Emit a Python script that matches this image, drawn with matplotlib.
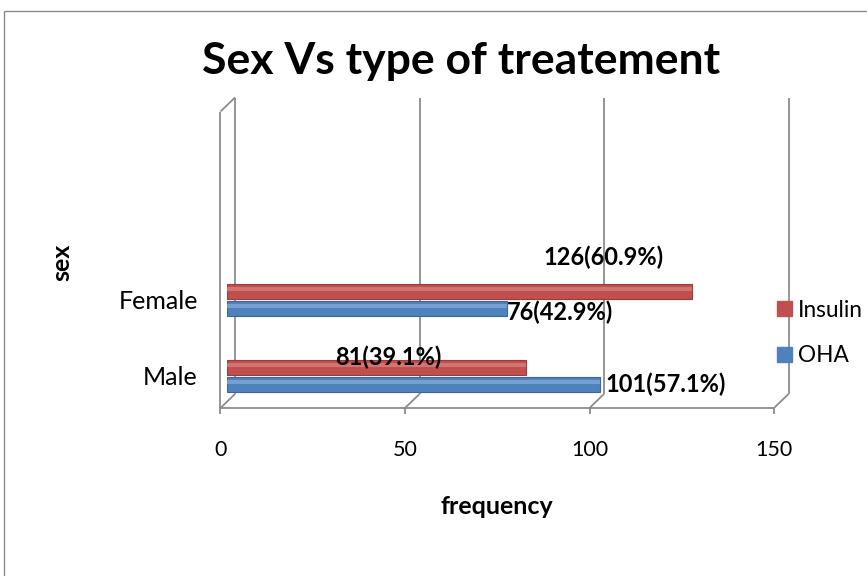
import matplotlib
matplotlib.use("Agg")
import matplotlib.pyplot as plt
from matplotlib.patches import Rectangle, Patch
from matplotlib.transforms import ScaledTranslation

plt.rcParams['font.family'] = ['Lato', 'DejaVu Sans']

# data
categories = ["Male", "Female"]
series_names = ["Insulin", "OHA"]
insulin = [81, 126]
oha = [101, 76]
insulin_labels = ["81(39.1%)", "126(60.9%)"]
oha_labels = ["101(57.1%)", "76(42.9%)"]
xticks = [0, 50, 100, 150]

red = "#C0504D"
blue = "#4F81BD"
wall = "#8C8C8C"

W, H = 867, 576
fig = plt.figure(figsize=(W / 100, H / 100), dpi=100)

# axes = middle plane of the 3d box (where the bars sit)
ax_l, ax_r, ax_b, ax_t = 227, 780.5, 401, 104.5
ax = fig.add_axes([ax_l / W, 1 - ax_b / H, (ax_r - ax_l) / W, (ax_b - ax_t) / H])
ax.set_xlim(0, 150)
cat_px = 76.0
ybot = -25.5 / cat_px
ax.set_ylim(ybot, ybot + (ax_b - ax_t) / cat_px)
for s in ax.spines.values():
    s.set_visible(False)
ax.patch.set_visible(False)

px_x = (ax_r - ax_l) / 150.0
px_y = ax_b - ax_t
# depth offsets (pixels) for front and back planes
fdx, fdy = -6.5 / px_x, -7 / px_y
bdx, bdy = 8 / px_x, 7 / px_y
tr = ax.get_xaxis_transform()
lk = dict(color=wall, lw=1.3, transform=tr, clip_on=False, solid_capstyle="butt")

for t in xticks:
    ax.plot([t + bdx, t + bdx], [bdy, 1 + bdy], **lk)          # back wall grid
    ax.plot([t + fdx, t + bdx], [fdy, bdy], **lk)               # floor connector
    ax.plot([t + fdx, t + fdx], [fdy, fdy - 6 / px_y], **lk)    # tick mark
ax.plot([fdx, 150 + fdx], [fdy, fdy], **lk)                     # front floor edge
ax.plot([fdx, fdx], [fdy, 1 + fdy], **lk)                       # left wall front edge
ax.plot([fdx, bdx], [1 + fdy, 1 + bdy], **lk)                   # left wall top

# bars
h = 15 / cat_px
off = 8.5 / cat_px
ypos = list(range(len(categories)))
y_ins = [y + off for y in ypos]
y_oha = [y - off for y in ypos]
ax.barh(y_ins, insulin, height=h, color=red, edgecolor="#9A3C3A", lw=0.8, zorder=3)
ax.barh(y_oha, oha, height=h, color=blue, edgecolor="#3A6698", lw=0.8, zorder=3)
ax.barh([y + h * 0.12 for y in y_ins], insulin, height=h * 0.3, color="#DA8583", lw=0, zorder=4, alpha=0.7)
ax.barh([y + h * 0.12 for y in y_oha], oha, height=h * 0.3, color="#86ABDA", lw=0, zorder=4, alpha=0.7)

# data labels
lab = dict(fontsize=17, fontweight="bold", textcoords="offset pixels", va="center", zorder=5)
ax.annotate(insulin_labels[1], (insulin[1], y_ins[1]), xytext=(-88, 34), ha="center", **lab)
ax.annotate(oha_labels[1], (oha[1], y_oha[1]), xytext=(-1, -4), ha="left", **lab)
ax.annotate(insulin_labels[0], (insulin[0], y_ins[0]), xytext=(-138, 10), ha="center", **lab)
ax.annotate(oha_labels[0], (oha[0], y_oha[0]), xytext=(6, 0), ha="left", **lab)

# ticks
ax.set_xticks(xticks)
ax.set_yticks(ypos)
ax.set_yticklabels(categories)
ax.tick_params(axis="both", length=0)
ax.tick_params(axis="x", pad=23, labelsize=15.5)
ax.tick_params(axis="y", pad=21, labelsize=18)
shift = ScaledTranslation(-6.5 / 100, -7 / 100, fig.dpi_scale_trans)
for lbl in ax.get_xticklabels():
    lbl.set_transform(lbl.get_transform() + shift)

ax.set_xlabel("frequency", fontsize=18, fontweight="bold", va="center")
ax.xaxis.set_label_coords((497 - ax_l) / (ax_r - ax_l), (ax_b - 506) / px_y)
ax.set_ylabel("sex", fontsize=18, fontweight="bold", va="center")
ax.yaxis.set_label_coords((62 - ax_l) / (ax_r - ax_l), (ax_b - 262) / px_y)

fig.text(461.5 / W, 1 - 61 / H, "Sex Vs type of treatement", fontsize=32,
         fontweight="bold", ha="center", va="center")

handles = [Patch(color=red), Patch(color=blue)]
fig.legend(handles, series_names, loc="center left", bbox_to_anchor=(777 / W, 1 - 333 / H),
           frameon=False, fontsize=16.3, handlelength=0.66, handleheight=0.66,
           handletextpad=0.28, labelspacing=1.1, borderpad=0, borderaxespad=0)

fig.add_artist(Rectangle((4 / W, -0.1), 1.2, (1 - 11 / H) + 0.1, transform=fig.transFigure,
                         fill=False, ec="#8A8A8A", lw=1))

fig.savefig("out.png", dpi=100)
